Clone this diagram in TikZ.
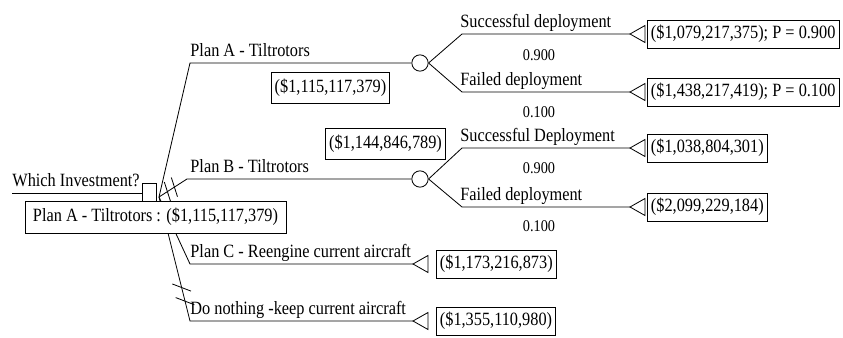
\documentclass[tikz,border=0pt]{standalone}
\usepackage{fontspec}
\setmainfont{Liberation Serif}[FakeStretch=0.87]
\usetikzlibrary{calc}
\begin{document}
\begin{tikzpicture}[x=0.03cm, y=-0.03cm, line width=0.7pt,
    every node/.style={font=\fontsize{16}{18}\selectfont},
    lbl/.style={anchor=base west, inner sep=0pt},
    prob/.style={font=\fontsize{14}{16}\selectfont, inner sep=0pt},
    outbox/.style={draw, fill=white, anchor=west, inner xsep=3pt, minimum height=0.84cm},
    valbox/.style={draw, fill=white, inner xsep=3pt, minimum height=0.93cm},
    chance/.style={draw, circle, fill=white, inner sep=0pt, minimum size=0.49cm},
    decision/.style={draw, fill=white, inner sep=0pt, minimum width=0.42cm, minimum height=0.6cm}]
    \useasboundingbox (0,0) rectangle (843,337);

    % root of the tree
    \coordinate (start) at (12,193);
    \node[decision] (dec) at (149,193) {};
    \draw (start) -- (start -| dec.west);
    \node[lbl] (question) at (12,186) {Which Investment?};
    \coordinate (fork) at (159,197);

    % plan A
    \coordinate (pa) at (190,63);
    \node[chance] (ca) at (420,63) {};
    \draw (fork) -- (pa) -- (ca);
    \node[lbl] (palbl) at (190,56) {Plan A - Tiltrotors};
    \node[valbox] (vala) at (330.5,88) {(\$1,115,117,379)};

    \coordinate (sa1) at (462,34);
    \coordinate (ta1) at (630,34);
    \draw (ca.east) -- (sa1) -- (ta1);
    \draw (ta1) -- ++(15,-8.5) -- ++(0,17) -- cycle;
    \node[lbl] (sa1lbl) at (460,27) {Successful deployment};
    \node[prob] (pa1) at (539,55) {0.900};
    \node[outbox] (oa1) at (647,34) {(\$1,079,217,375); P = 0.900};

    \coordinate (sa2) at (462,92);
    \coordinate (ta2) at (630,92);
    \draw (ca.east) -- (sa2) -- (ta2);
    \draw (ta2) -- ++(15,-8.5) -- ++(0,17) -- cycle;
    \node[lbl] (sa2lbl) at (460,85) {Failed deployment};
    \node[prob] (pa2) at (539,112) {0.100};
    \node[outbox] (oa2) at (647,92) {(\$1,438,217,419); P = 0.100};

    % plan B
    \coordinate (pb) at (187,179);
    \node[chance] (cb) at (420,179) {};
    \draw (fork) -- (pb) -- (cb);
    \draw ($(fork)!0.3!(pb)!0.3cm!75:(pb)$) -- ($(fork)!0.3!(pb)!0.3cm!-105:(pb)$);
    \draw ($(fork)!0.55!(pb)!0.3cm!75:(pb)$) -- ($(fork)!0.55!(pb)!0.3cm!-105:(pb)$);
    \node[lbl] (pblbl) at (190,172) {Plan B - Tiltrotors};
    \node[valbox] (valb) at (385.5,143.5) {(\$1,144,846,789)};

    \coordinate (sb1) at (462,148);
    \coordinate (tb1) at (630,148);
    \draw (cb.east) -- (sb1) -- (tb1);
    \draw (tb1) -- ++(15,-8.5) -- ++(0,17) -- cycle;
    \node[lbl] (sb1lbl) at (460,141) {Successful Deployment};
    \node[prob] (pb1) at (539,168) {0.900};
    \node[outbox] (ob1) at (647,148) {(\$1,038,804,301)};

    \coordinate (sb2) at (462,207);
    \coordinate (tb2) at (630,207);
    \draw (cb.east) -- (sb2) -- (tb2);
    \draw (tb2) -- ++(15,-8.5) -- ++(0,17) -- cycle;
    \node[lbl] (sb2lbl) at (460,200) {Failed deployment};
    \node[prob] (pb2) at (539,226) {0.100};
    \node[outbox] (ob2) at (647,207) {(\$2,099,229,184)};

    % plan C
    \coordinate (pc) at (190,264);
    \coordinate (tc) at (413,264);
    \draw (fork) -- (pc) -- (tc);
    \draw (tc) -- ++(15,-8.5) -- ++(0,17) -- cycle;
    \node[lbl] (pclbl) at (190,257) {Plan C - Reengine current aircraft};
    \node[outbox] (oc) at (436,264) {(\$1,173,216,873)};

    % do nothing
    \coordinate (pd) at (190,321);
    \coordinate (td) at (413,321);
    \draw (fork) -- (pd) -- (td);
    \draw ($(fork)!0.73!(pd)!0.3cm!55:(pd)$) -- ($(fork)!0.73!(pd)!0.3cm!-125:(pd)$);
    \draw ($(fork)!0.84!(pd)!0.3cm!55:(pd)$) -- ($(fork)!0.84!(pd)!0.3cm!-125:(pd)$);
    \draw (td) -- ++(15,-8.5) -- ++(0,17) -- cycle;
    \node[lbl] (pdlbl) at (190,314) {Do nothing -keep current aircraft};
    \node[outbox] (od) at (436,321) {(\$1,355,110,980)};

    % best choice
    \node[draw, fill=white, minimum width=7.83cm, minimum height=0.96cm] (best) at (155.5,217)
        {Plan A - Tiltrotors : (\$1,115,117,379)};
\end{tikzpicture}
\end{document}
